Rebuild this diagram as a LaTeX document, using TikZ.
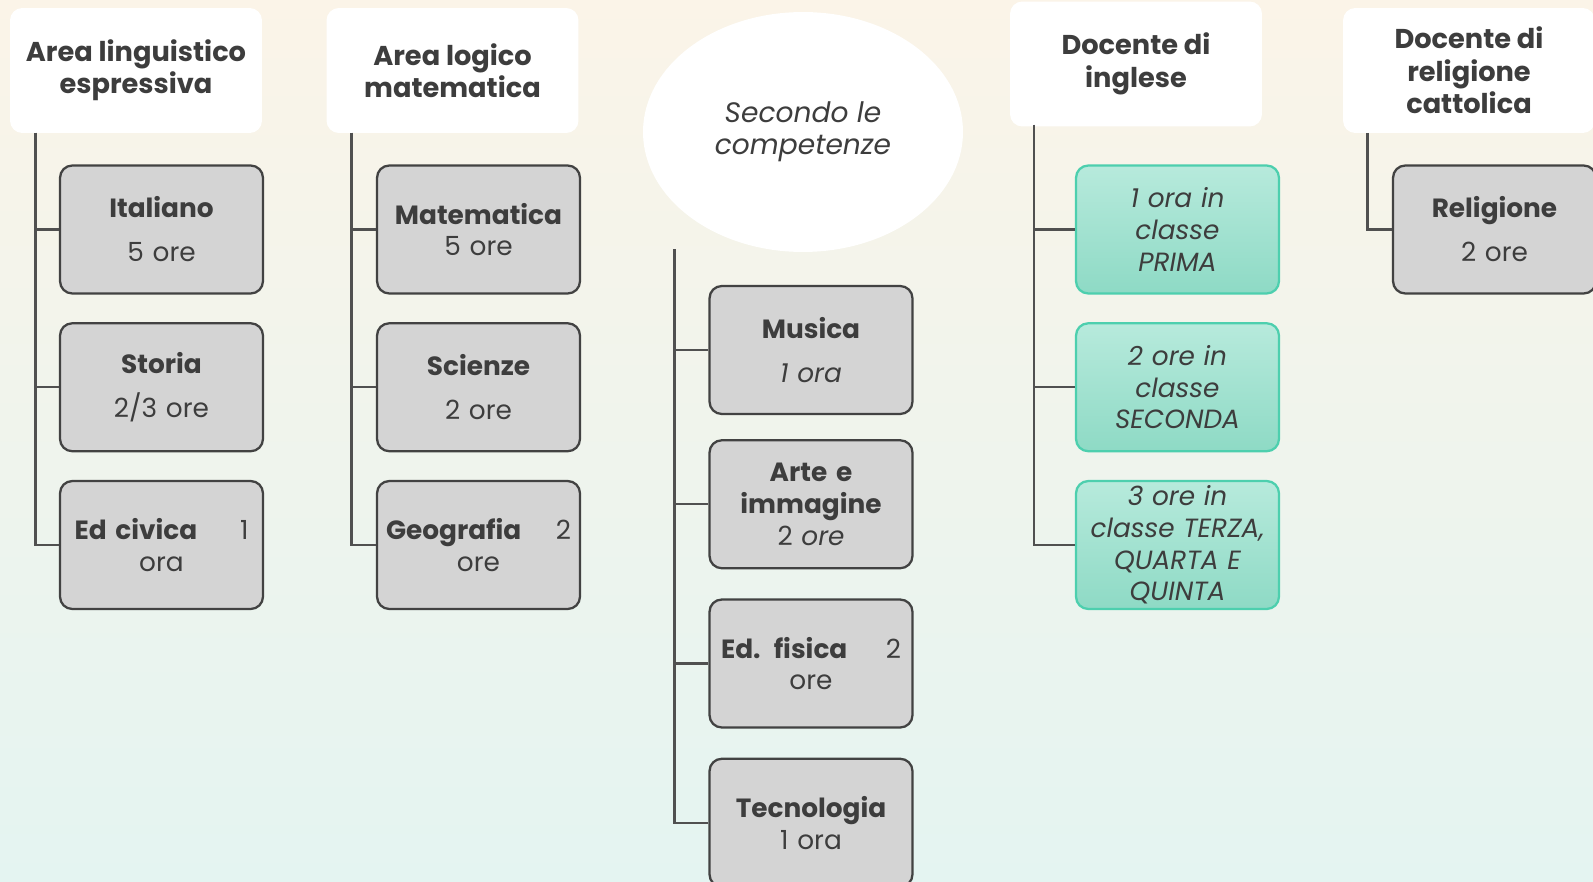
\documentclass[tikz,border=0pt]{standalone}
\usepackage{fontspec}
\setmainfont{Poppins}
\usetikzlibrary{positioning,shapes.geometric}

\definecolor{bgtop}{HTML}{FBF4E8}
\definecolor{bgmid}{HTML}{F8F8F4}
\definecolor{bgbot}{HTML}{E4F4F1}
\definecolor{ink}{HTML}{3D3D3D}
\definecolor{subjfill}{HTML}{D4D4D4}
\definecolor{subjline}{HTML}{424242}
\definecolor{tealtop}{HTML}{B7EADC}
\definecolor{tealbot}{HTML}{8EDAC5}
\definecolor{tealline}{HTML}{4DCFAE}

\def\rowsep{0.55cm}

\begin{document}
\begin{tikzpicture}[x=0.02cm,y=-0.02cm, node distance=\rowsep, text=ink]
\tikzstyle{head}=[rectangle,rounded corners=7pt,fill=white,minimum width=5.04cm,minimum height=2.5cm,
  inner sep=0pt,align=center,font=\fontsize{15.5}{18.4}\selectfont\bfseries]
\tikzstyle{subj}=[rectangle,rounded corners=7pt,fill=subjfill,draw=subjline,line width=1.3pt,
  minimum width=4.06cm,minimum height=2.56cm,inner sep=0pt,text width=3.8cm,align=center,
  font=\fontsize{15}{18}\selectfont]
\tikzstyle{class}=[subj,draw=tealline,top color=tealtop,bottom color=tealbot,
  font=\fontsize{15}{18}\selectfont\itshape]
\tikzstyle{conn}=[draw=ink!90,line width=1.4pt]

% Background
\shade[top color=bgtop,middle color=bgmid,bottom color=bgbot] (0,0) rectangle (1593,882);
\useasboundingbox (0,0) rectangle (1593,882);

% Headers
\node[head] (A1) at (136,70.5) {Area linguistico\\espressiva};
\node[head] (A2) at (452.5,70.5) {Area logico\\matematica};
\node[ellipse,fill=white,minimum width=6.4cm,minimum height=4.8cm,inner sep=0pt,align=center,
  font=\fontsize{16}{18.4}\selectfont\itshape] (A3) at (803,132) {Secondo le\\competenze};
\node[head] (A4) at (1136,64) {Docente di\\inglese};
\node[head] (A5) at (1469,70.5) {Docente di\\religione\\cattolica};

% Area linguistico espressiva
\node[subj] (L1-1) at (161.5,229.5) {\textbf{Italiano}\\[7pt]5 ore};
\node[subj,below=of L1-1] (L1-2) {\textbf{Storia}\\[7pt]2/3 ore};
\node[subj,below=of L1-2] (L1-3) {\makebox[3.48cm]{\textbf{Ed civica}\hfill 1}\\ora};

% Area logico matematica
\node[subj] (L2-1) at (478.5,229.5) {\textbf{Matematica}\\5 ore};
\node[subj,below=of L2-1] (L2-2) {\textbf{Scienze}\\[7pt]2 ore};
\node[subj,below=of L2-2] (L2-3) {\makebox[3.7cm]{\textbf{Geografia}\hfill 2}\\ore};

% Secondo le competenze
\node[subj] (L3-1) at (811,350) {\textbf{Musica}\\[7pt]\textit{1 ora}};
\node[subj,below=0.48cm of L3-1] (L3-2) {\textbf{Arte e}\\\textbf{immagine}\\2 \textit{ore}};
\node[subj,below=0.58cm of L3-2] (L3-3) {\makebox[3.6cm]{\textbf{Ed. fisica}\hfill 2}\\ore};
\node[subj,below=0.58cm of L3-3] (L3-4) {\textbf{Tecnologia}\\1 ora};

% Docente di inglese
\node[class] (L4-1) at (1177.5,229.5) {1 ora in\\classe\\PRIMA};
\node[class,below=of L4-1] (L4-2) {2 ore in\\classe\\SECONDA};
\node[class,below=of L4-2] (L4-3) {3 ore in\\classe TERZA,\\QUARTA E\\QUINTA};

% Docente di religione
\node[subj] (L5-1) at (1494.5,229.5) {\textbf{Religione}\\[7pt]2 ore};

% Connectors
\coordinate (T1) at (35.6,133);
\coordinate (T2) at (351.5,133);
\coordinate (T3) at (674.6,249);
\coordinate (T4) at (1034,125);
\coordinate (T5) at (1367.6,133);

\foreach \i in {1,2,3}
\draw[conn] (T1) |- (L1-\i.west);

\foreach \i in {1,2,3}
\draw[conn] (T2) |- (L2-\i.west);

\foreach \i in {1,...,4}
\draw[conn] (T3) |- (L3-\i.west);

\foreach \i in {1,2,3}
\draw[conn] (T4) |- (L4-\i.west);

\draw[conn] (T5) |- (L5-1.west);

\end{tikzpicture}
\end{document}
